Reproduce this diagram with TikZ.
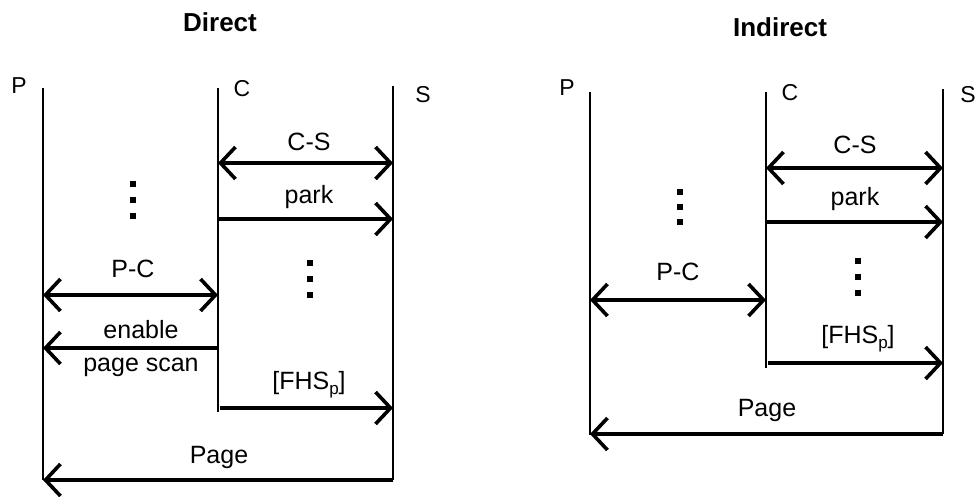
\documentclass[tikz,border=0pt]{standalone}
\usepackage{fontspec}
\setmainfont{Liberation Sans}
\usetikzlibrary{arrows.meta}
\newcommand{\subp}{\raisebox{-5pt}{\fontsize{17}{17}\selectfont p}}
\begin{document}
\begin{tikzpicture}[x=1pt,y=-1pt,
  life/.style={line width=2.4pt},
  msg/.style={line width=3.6pt},
  tip/.style={-{Straight Barb[length=15pt,width=32pt]}},
  both/.style={{Straight Barb[length=15pt,width=32pt]}-{Straight Barb[length=15pt,width=32pt]}},
  lbl/.style={font=\fontsize{25}{28}\selectfont, inner sep=0pt},
  nm/.style={font=\fontsize{23}{26}\selectfont, inner sep=0pt},
  ttl/.style={font=\fontsize{26}{28}\selectfont\bfseries, inner sep=0pt},
  dotn/.style={rectangle, fill=black, inner sep=0pt, minimum size=5.5pt}
]
\useasboundingbox (0,0) rectangle (976,496);

% ===== Direct =====
\node[ttl] (t1) at (220,22) {Direct};
\node[nm] (lP1) at (19,86) {P};
\node[nm] (lC1) at (242,89) {C};
\node[nm] (lS1) at (423,95) {S};
\coordinate (P1t) at (43,88);  \coordinate (P1b) at (43,480);
\coordinate (C1t) at (218,88); \coordinate (C1b) at (218,412);
\coordinate (S1t) at (393,86); \coordinate (S1b) at (393,480);
\draw[life] (P1t) -- (P1b);
\draw[life] (C1t) -- (C1b);
\draw[life] (S1t) -- (S1b);

\node[lbl] (cs1) at (309,142) {C-S};
\coordinate (cs1a) at (218,163); \coordinate (cs1b) at (393,163);
\draw[msg,both] (cs1a) -- (cs1b);

\node[lbl] (pk1) at (309,197) {park};
\coordinate (pk1a) at (218,219); \coordinate (pk1b) at (393,219);
\draw[msg,tip] (pk1a) -- (pk1b);

\node[dotn] (d1a) at (133,184) {};
\node[dotn] (d1b) at (133,200) {};
\node[dotn] (d1c) at (133,216) {};
\node[dotn] (d1d) at (310,263) {};
\node[dotn] (d1e) at (310,279) {};
\node[dotn] (d1f) at (310,295) {};

\node[lbl] (pc1) at (133,269) {P-C};
\coordinate (pc1a) at (43,295); \coordinate (pc1b) at (218,295);
\draw[msg,both] (pc1a) -- (pc1b);

\node[lbl] (en1) at (141,330) {enable};
\node[lbl] (ps1) at (141,367) {page scan};
\coordinate (en1a) at (218,348); \coordinate (en1b) at (43,348);
\draw[msg,tip] (en1a) -- (en1b);

\node[lbl] (fh1) at (309,385) {[FHS\subp]};
\coordinate (fh1a) at (220,408); \coordinate (fh1b) at (393,408);
\draw[msg,tip] (fh1a) -- (fh1b);

\node[lbl] (pg1) at (219,457) {Page};
\coordinate (pg1a) at (393,480); \coordinate (pg1b) at (43,480);
\draw[msg,tip] (pg1a) -- (pg1b);

% ===== Indirect =====
\node[ttl] (t2) at (780,27) {Indirect};
\node[nm] (lP2) at (567,88) {P};
\node[nm] (lC2) at (790,93) {C};
\node[nm, anchor=east] (lS2) at (976,95) {S};
\coordinate (P2t) at (590,92);  \coordinate (P2b) at (590,435);
\coordinate (C2t) at (766,92);  \coordinate (C2b) at (766,368);
\coordinate (S2t) at (943,89);  \coordinate (S2b) at (943,434);
\draw[life] (P2t) -- (P2b);
\draw[life] (C2t) -- (C2b);
\draw[life] (S2t) -- (S2b);

\node[lbl] (cs2) at (855,145) {C-S};
\coordinate (cs2a) at (766,168); \coordinate (cs2b) at (943,168);
\draw[msg,both] (cs2a) -- (cs2b);

\node[lbl] (pk2) at (855,199) {park};
\coordinate (pk2a) at (766,222); \coordinate (pk2b) at (943,222);
\draw[msg,tip] (pk2a) -- (pk2b);

\node[dotn] (d2a) at (680,192) {};
\node[dotn] (d2b) at (680,207) {};
\node[dotn] (d2c) at (680,222) {};
\node[dotn] (d2d) at (858,261) {};
\node[dotn] (d2e) at (858,277) {};
\node[dotn] (d2f) at (858,293) {};

\node[lbl] (pc2) at (678,272) {P-C};
\coordinate (pc2a) at (590,300); \coordinate (pc2b) at (766,300);
\draw[msg,both] (pc2a) -- (pc2b);

\node[lbl] (fh2) at (858,339) {[FHS\subp]};
\coordinate (fh2a) at (768,363); \coordinate (fh2b) at (943,363);
\draw[msg,tip] (fh2a) -- (fh2b);

\node[lbl] (pg2) at (767,410) {Page};
\coordinate (pg2a) at (943,434); \coordinate (pg2b) at (590,434);
\draw[msg,tip] (pg2a) -- (pg2b);
\end{tikzpicture}
\end{document}
